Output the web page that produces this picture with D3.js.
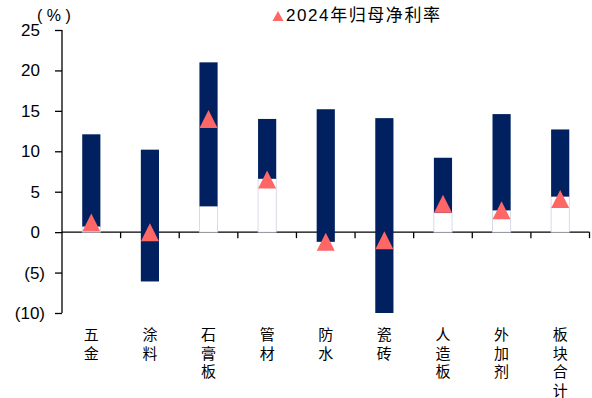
<!DOCTYPE html>
<html>
<head>
<meta charset="utf-8">
<script src="https://cdn.jsdelivr.net/npm/d3@7/dist/d3.min.js"></script>
<style>
  html, body { margin: 0; padding: 0; background: #fff; }
  svg { display: block; }
</style>
</head>
<body>
<script>
const categories = ['五金', '涂料', '石膏板', '管材', '防水', '瓷砖', '人造板', '外加剂', '板块合计'];
const maxValues = [12.1, 10.2, 21.0, 14.0, 15.2, 14.1, 9.2, 14.6, 12.7];
const minValues = [0.7, -6.1, 3.2, 6.6, -1.2, -10.0, 2.4, 2.7, 4.4];
const margin2024 = [1.2, 0.0, 14.0, 6.5, -1.2, -1.0, 3.5, 2.7, 4.1];
const yTicks = [-10, -5, 0, 5, 10, 15, 20, 25];
const legendLabel = '2024年归母净利率';
const unitLabel = '(%)';

const W = 592, H = 398;
const navy = '#002060', red = '#FF6666';
const numFont = '"Liberation Sans", Arial, "Noto Sans CJK SC", sans-serif';
const cjkFont = '"Noto Sans CJK SC", sans-serif';

const svg = d3.select('body').append('svg').attr('width', W).attr('height', H);

const x = d3.scaleBand().domain(categories).range([62, 589.5]).padding(0);
const y = d3.scaleLinear().domain([-10, 25]).range([313, 30]);
const bw = x.bandwidth() * 0.31;

// y axis
const yAxis = d3.axisLeft(y).tickValues(yTicks).tickSize(7).tickFormat(() => '');
const gy = svg.append('g').attr('transform', 'translate(62,0)').call(yAxis);
gy.select('.domain').attr('stroke', '#000').attr('stroke-width', 1.3).attr('d', `M0,${y(-10)}V${y(25)}`);
gy.selectAll('.tick line').attr('stroke', '#000').attr('stroke-width', 1.3);

svg.append('g').selectAll('text').data(yTicks).join('text')
  .attr('x', d => d < 0 ? 45 : 40)
  .attr('y', d => y(d))
  .attr('dy', '0.35em')
  .attr('text-anchor', 'end')
  .attr('font-family', numFont)
  .attr('font-size', 17)
  .attr('fill', '#000')
  .text(d => d < 0 ? `(${Math.abs(d)})` : d);

// x axis at zero
const xAxis = d3.axisBottom(x).tickSize(0).tickFormat(() => '');
const gx = svg.append('g').attr('transform', `translate(0,${y(0)})`).call(xAxis);
gx.select('.domain').attr('stroke', '#000').attr('stroke-width', 1.3).attr('d', `M${x.range()[0]},0H${x.range()[1]}`);
gx.selectAll('.tick').remove();
const boundaries = categories.map(c => x(c) + x.bandwidth());
gx.selectAll('line.bt').data(boundaries).join('line')
  .attr('class', 'bt')
  .attr('x1', d => d).attr('x2', d => d)
  .attr('y1', 0).attr('y2', 6)
  .attr('stroke', '#000').attr('stroke-width', 1.3);

// invisible base bars (white, light border)
const rows = categories.map((c, i) => ({ c, max: maxValues[i], min: minValues[i], m: margin2024[i] }));
svg.append('g').selectAll('rect').data(rows.filter(d => d.min > 0)).join('rect')
  .attr('x', d => x(d.c) + (x.bandwidth() - bw) / 2)
  .attr('width', bw)
  .attr('y', d => y(d.min))
  .attr('height', d => y(0) - y(d.min))
  .attr('fill', '#fff')
  .attr('stroke', '#CDD3E3')
  .attr('stroke-width', 0.8);

// range bars
svg.append('g').selectAll('rect').data(rows).join('rect')
  .attr('x', d => x(d.c) + (x.bandwidth() - bw) / 2)
  .attr('width', bw)
  .attr('y', d => y(d.max))
  .attr('height', d => y(d.min) - y(d.max))
  .attr('fill', navy);

// triangle markers
const tri = (cx, cy, w, h) => {
  const p = d3.path();
  p.moveTo(cx, cy - h / 2);
  p.lineTo(cx + w / 2, cy + h / 2);
  p.lineTo(cx - w / 2, cy + h / 2);
  p.closePath();
  return p.toString();
};
svg.append('g').selectAll('path').data(rows).join('path')
  .attr('d', d => tri(x(d.c) + x.bandwidth() / 2, y(d.m), 18, 18))
  .attr('fill', red);

// category labels (vertical, one character per line)
const chars = categories.flatMap(c => Array.from(c).map((ch, k) => ({ ch, k, c })));
svg.append('g').selectAll('text').data(chars).join('text')
  .attr('text-anchor', 'middle')
  .attr('font-family', cjkFont)
  .attr('font-size', 15)
  .attr('fill', '#000')
  .attr('x', d => x(d.c) + x.bandwidth() / 2)
  .attr('y', d => 340 + d.k * 18.5)
  .text(d => d.ch);

// unit label
svg.append('text').attr('x', 37).attr('y', 21)
  .attr('font-family', numFont).attr('font-size', 16).attr('fill', '#000')
  .attr('letter-spacing', 4.5)
  .text(unitLabel);

// legend
svg.append('path').attr('d', tri(278, 16, 11, 10)).attr('fill', red);
svg.append('text').attr('x', 286).attr('y', 21)
  .attr('font-family', numFont).attr('font-size', 17).attr('fill', '#000')
  .attr('textLength', 154).attr('lengthAdjust', 'spacing')
  .text(legendLabel);
</script>
</body>
</html>
